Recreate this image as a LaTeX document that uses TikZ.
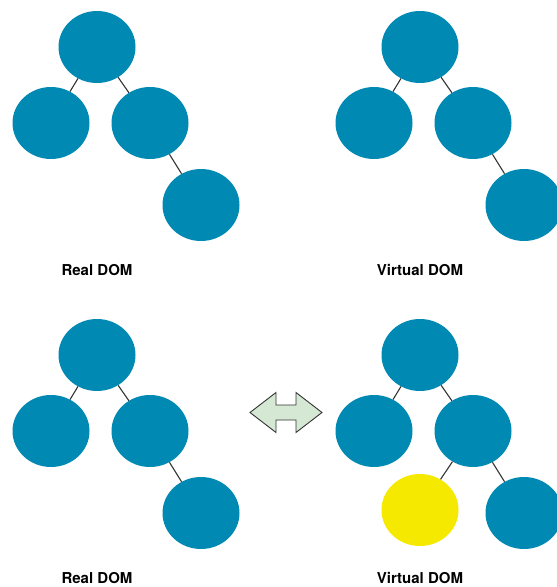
\documentclass[tikz,border=0pt]{standalone}
\usepackage{fontspec}
\setmainfont{TeX Gyre Heros}
\usetikzlibrary{positioning,shapes.geometric}
\definecolor{dom}{RGB}{0,137,178}
\definecolor{changed}{RGB}{245,233,0}
\definecolor{swapfill}{RGB}{213,232,212}

\begin{document}
\begin{tikzpicture}[x=1pt, y=-1pt, on grid,
    main/.style = {ellipse, fill=dom, minimum width=77pt, minimum height=72pt, inner sep=0pt},
    new/.style = {main, fill=changed},
    link/.style = {draw=black!80, line width=1.1pt},
    domname/.style = {font=\fontsize{15}{18}\selectfont\bfseries, inner sep=0pt},
    swaparrow/.style = {draw=black!80, line width=0.9pt, fill=swapfill, line join=miter}]
    \useasboundingbox (0,0) rectangle (557,587);

    % the four trees
    \foreach \t/\x/\y/\name in {a/97/47/Real DOM, b/420/47/Virtual DOM, c/97/355/Real DOM, d/420/355/Virtual DOM} {
        \node[main] (\t0) at (\x,\y) {};
        \node[main] (\t1) [below left=76pt and 46pt of \t0] {};
        \node[main] (\t2) [below right=76pt and 53pt of \t0] {};
        \node[main] (\t3) [below right=82pt and 51pt of \t2] {};
        \node[domname] (\t n) [below=223pt of \t0] {\name};

        \path[link] (\t0) edge (\t1) (\t0) edge (\t2) (\t2) edge (\t3);
    }

    % changed node in the virtual tree
    \node[new] (d4) [below left=79pt and 53pt of d2] {};
    \path[link] (d2) edge (d4);

    % diff arrow
    \draw[swaparrow] (250,412.5) -- (276,392.5) -- (276,405) -- (296,405) -- (296,392.5)
        -- (322,412.5) -- (296,432.5) -- (296,420) -- (276,420) -- (276,432.5) -- cycle;
\end{tikzpicture}
\end{document}
